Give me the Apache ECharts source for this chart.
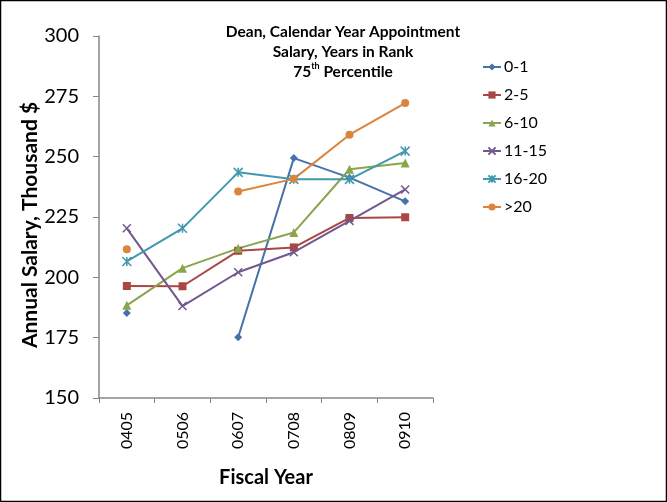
<!DOCTYPE html>
<html><head><meta charset="utf-8">
<script src="https://cdn.jsdelivr.net/npm/echarts@6/dist/echarts.min.js"></script>
<style>html,body{margin:0;padding:0;background:#fff}#c{width:667px;height:502px}</style>
</head><body><div id="c"></div>
<script>
const categories = ['0405','0506','0607','0708','0809','0910'];
const s01   = [185.2, null, 175.2, 249.4, 241.3, 231.5];
const s25   = [196.4, 196.3, 211.0, 212.4, 224.6, 224.9];
const s610  = [188.4, 203.8, 212.0, 218.6, 244.8, 247.4];
const s1115 = [220.3, 188.1, 202.1, 210.4, 223.4, 236.4];
const s1620 = [206.6, 220.3, 243.5, 240.6, 240.6, 252.3];
const s20   = [211.6, null, 235.6, 240.8, 259.1, 272.2];
const seriesNames = ['0-1','2-5','6-10','11-15','16-20','>20'];
const yTicks = [150, 175, 200, 225, 250, 275, 300];

const colors = ['#4572A7','#AA4643','#89A54E','#71588F','#4198AF','#DB843D'];
const symbols = ['diamond','rect','triangle','path://M0,0L10,10M10,0L0,10','path://M0,0L10,10M10,0L0,10M5,0L5,10','circle'];
const sizes = [8,8,9,8,9,8];
const dataSets = [s01,s25,s610,s1115,s1620,s20];
const font = 'Lato, "Open Sans", sans-serif';

const chart = echarts.init(document.getElementById('c'));
chart.setOption({
  animation:false,
  backgroundColor:'#fff',
  graphic:[{type:'rect',shape:{x:0.5,y:0.5,width:666,height:501},style:{fill:'none',stroke:'#000',lineWidth:1.5}}],
  title:{
    left:338, top:17, textAlign:'center',
    text:'{b|Dean, Calendar Year Appointment}\n{b|Salary, Years in Rank}\n{b|75}{sup|th}{b| Percentile}',
    textStyle:{rich:{
      b:{fontFamily:font,fontWeight:'bold',fontSize:15.5,color:'#000',lineHeight:20},
      sup:{fontFamily:font,fontWeight:'bold',fontSize:9,color:'#000',verticalAlign:'top',lineHeight:20,padding:[0,0,7,0]}
    }}
  },
  legend:{
    orient:'vertical', left:477, top:53, itemGap:10, itemWidth:18, itemHeight:9,
    data:seriesNames,
    textStyle:{fontFamily:font,fontSize:16,color:'#000',lineHeight:18,padding:[0,0,0,-2]}
  },
  grid:{left:99, top:36, right:234, bottom:104},
  xAxis:{
    type:'category', data:categories, boundaryGap:true,
    name:'Fiscal Year', nameLocation:'middle', nameGap:70, nameMoveOverlap:false,
    nameTextStyle:{fontFamily:font,fontWeight:'bold',fontSize:20,color:'#000'},
    axisLine:{lineStyle:{color:'#868686',width:1.5}},
    axisTick:{show:true,length:5,lineStyle:{color:'#868686'}},
    axisLabel:{rotate:90,fontFamily:font,fontSize:16,color:'#000',margin:14}
  },
  yAxis:{
    type:'value', min:150, max:300, interval:25,
    name:'Annual Salary, Thousand $', nameLocation:'middle', nameGap:58, nameMoveOverlap:false,
    nameTextStyle:{fontFamily:font,fontWeight:'bold',fontSize:21,color:'#000',padding:[0,16,0,0]},
    axisLine:{show:true,lineStyle:{color:'#868686',width:1.5}},
    axisTick:{show:true,length:6,lineStyle:{color:'#868686'}},
    splitLine:{show:false},
    axisLabel:{fontFamily:font,fontSize:20,color:'#000',margin:20,
      formatter:function(v){return yTicks.indexOf(v)>=0?String(v):'';}}
  },
  series:dataSets.map(function(d,i){return {
    name:seriesNames[i], type:'line', data:d, connectNulls:false,
    symbol:symbols[i], symbolSize:sizes[i], showAllSymbol:true,
    lineStyle:{color:colors[i],width:2},
    itemStyle:{color:colors[i],borderColor:colors[i],borderWidth:(i===3||i===4)?1.5:0}
  };})
});
</script></body></html>
